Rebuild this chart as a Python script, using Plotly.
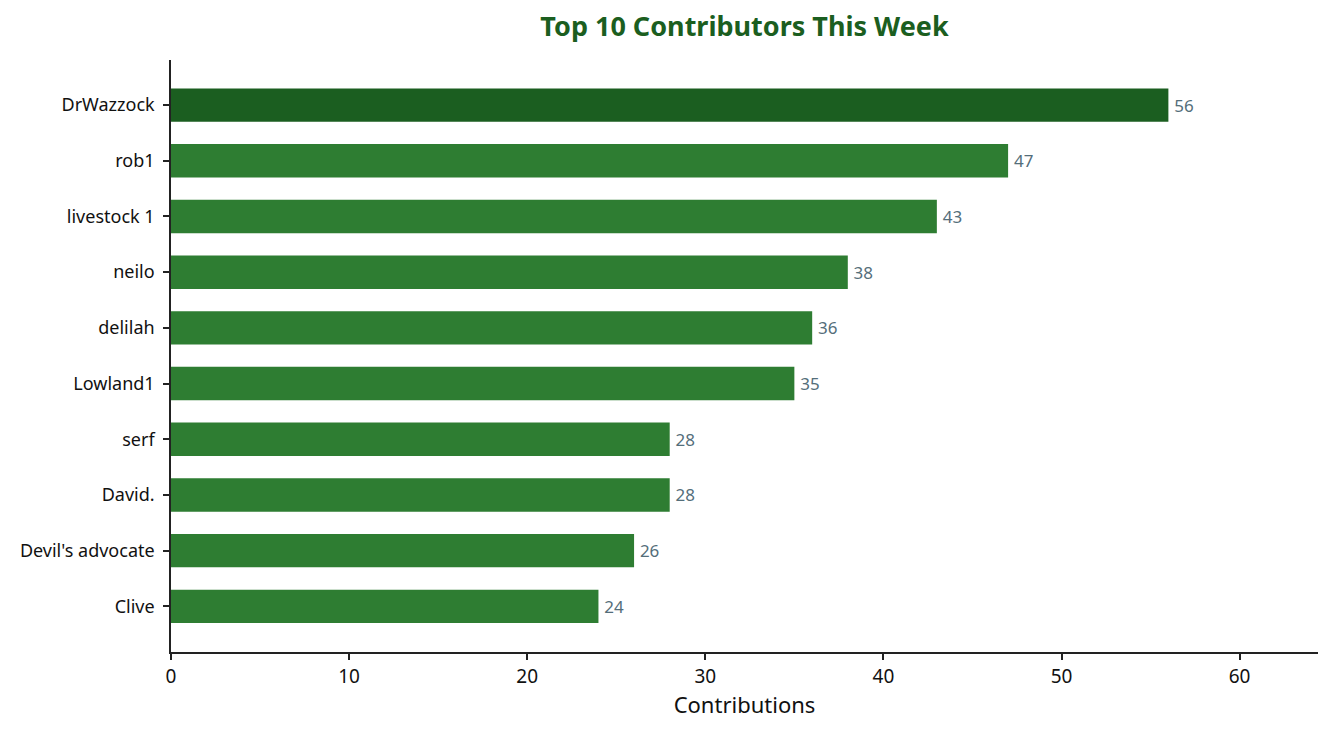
import plotly.graph_objects as go

names = ["DrWazzock", "rob1", "livestock 1", "neilo", "delilah", "Lowland1",
         "serf", "David.", "Devil's advocate", "Clive"]
contributions = [56, 47, 43, 38, 36, 35, 28, 28, 26, 24]
x_ticks = [0, 10, 20, 30, 40, 50, 60]

# bottom-to-top order for plotting
ys = names[::-1]
xs = contributions[::-1]
colors = ["#1b5e20" if n == names[0] else "#2e7d32" for n in ys]

font = "Noto Sans, Open Sans, sans-serif"

fig = go.Figure(go.Bar(
    x=xs, y=ys, orientation="h",
    marker=dict(color=colors, line=dict(width=0)),
    width=0.6,
    text=["\u2009" + str(v) for v in xs],
    textposition="outside",
    textfont=dict(color="#546e7a", size=17, family=font),
    cliponaxis=False,
    hoverinfo="skip",
))

fig.update_layout(
    width=1326, height=727,
    margin=dict(l=163, r=16, t=52, b=83),
    paper_bgcolor="white", plot_bgcolor="white",
    showlegend=False,
    font=dict(family=font, color="#111111"),
    title=dict(text="<b>Top 10 Contributors This Week</b>", x=0.5, xanchor="center",
               xref="paper",
               y=1 - 19 / 727, yanchor="middle",
               font=dict(size=27, color="#1b5e20", family=font)),
    xaxis=dict(
        range=[0, 64.4], tickvals=x_ticks, ticktext=[str(t) for t in x_ticks],
        showgrid=False, zeroline=False,
        showline=True, linecolor="#222222", linewidth=1.5,
        ticks="outside", ticklen=6, tickwidth=1.5, tickcolor="#222222",
        tickfont=dict(size=19, color="#111111"),
        title=dict(text="Contributions", font=dict(size=22, color="#111111"), standoff=8),
    ),
    yaxis=dict(
        categoryorder="array", categoryarray=ys,
        range=[-0.82, 9.81],
        showgrid=False, zeroline=False,
        showline=True, linecolor="#222222", linewidth=1.5,
        ticks="outside", ticklen=6, tickwidth=1.5, tickcolor="#222222",
        ticklabelstandoff=5,
        tickfont=dict(size=18, color="#111111"),
    ),
    bargap=0.4,
)

fig.write_html("out.html")
